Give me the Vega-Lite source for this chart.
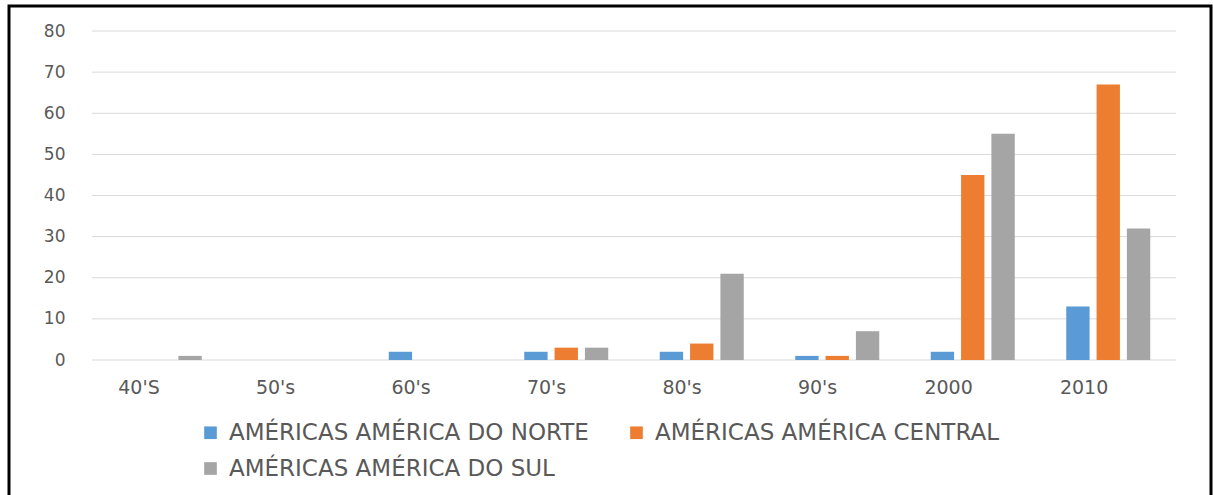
{
  "$schema": "https://vega.github.io/schema/vega-lite/v6.json",
  "width": 1202,
  "height": 495,
  "autosize": "none",
  "padding": {"left": 9, "top": 6, "right": 2, "bottom": 0},
  "background": "white",
  "config": {
    "view": {"stroke": "#000000", "strokeWidth": 3},
    "font": "DejaVu Sans"
  },
  "datasets": {
    "bars": [
      {"decada": "40'S", "regiao": "AMÉRICAS AMÉRICA DO NORTE", "valor": 0},
      {"decada": "40'S", "regiao": "AMÉRICAS AMÉRICA CENTRAL", "valor": 0},
      {"decada": "40'S", "regiao": "AMÉRICAS AMÉRICA DO SUL", "valor": 1},
      {"decada": "50's", "regiao": "AMÉRICAS AMÉRICA DO NORTE", "valor": 0},
      {"decada": "50's", "regiao": "AMÉRICAS AMÉRICA CENTRAL", "valor": 0},
      {"decada": "50's", "regiao": "AMÉRICAS AMÉRICA DO SUL", "valor": 0},
      {"decada": "60's", "regiao": "AMÉRICAS AMÉRICA DO NORTE", "valor": 2},
      {"decada": "60's", "regiao": "AMÉRICAS AMÉRICA CENTRAL", "valor": 0},
      {"decada": "60's", "regiao": "AMÉRICAS AMÉRICA DO SUL", "valor": 0},
      {"decada": "70's", "regiao": "AMÉRICAS AMÉRICA DO NORTE", "valor": 2},
      {"decada": "70's", "regiao": "AMÉRICAS AMÉRICA CENTRAL", "valor": 3},
      {"decada": "70's", "regiao": "AMÉRICAS AMÉRICA DO SUL", "valor": 3},
      {"decada": "80's", "regiao": "AMÉRICAS AMÉRICA DO NORTE", "valor": 2},
      {"decada": "80's", "regiao": "AMÉRICAS AMÉRICA CENTRAL", "valor": 4},
      {"decada": "80's", "regiao": "AMÉRICAS AMÉRICA DO SUL", "valor": 21},
      {"decada": "90's", "regiao": "AMÉRICAS AMÉRICA DO NORTE", "valor": 1},
      {"decada": "90's", "regiao": "AMÉRICAS AMÉRICA CENTRAL", "valor": 1},
      {"decada": "90's", "regiao": "AMÉRICAS AMÉRICA DO SUL", "valor": 7},
      {"decada": "2000", "regiao": "AMÉRICAS AMÉRICA DO NORTE", "valor": 2},
      {"decada": "2000", "regiao": "AMÉRICAS AMÉRICA CENTRAL", "valor": 45},
      {"decada": "2000", "regiao": "AMÉRICAS AMÉRICA DO SUL", "valor": 55},
      {"decada": "2010", "regiao": "AMÉRICAS AMÉRICA DO NORTE", "valor": 13},
      {"decada": "2010", "regiao": "AMÉRICAS AMÉRICA CENTRAL", "valor": 67},
      {"decada": "2010", "regiao": "AMÉRICAS AMÉRICA DO SUL", "valor": 32}
    ],
    "grid": [
      {"v": 0}, {"v": 10}, {"v": 20}, {"v": 30}, {"v": 40},
      {"v": 50}, {"v": 60}, {"v": 70}, {"v": 80}
    ]
  },
  "layer": [
    {
      "data": {"name": "grid"},
      "mark": {"type": "rule", "color": "#d9d9d9", "strokeWidth": 1},
      "encoding": {
        "y": {"field": "v", "type": "quantitative"},
        "x": {"datum": "40'S", "bandPosition": -0.306},
        "x2": {"datum": "2010", "bandPosition": 1.307}
      }
    },
    {
      "data": {"name": "bars"},
      "mark": {"type": "bar"},
      "encoding": {
        "x": {
          "field": "decada",
          "type": "nominal",
          "scale": {
            "domain": ["40'S", "50's", "60's", "70's", "80's", "90's", "2000", "2010"],
            "range": [83, 1167],
            "paddingInner": 0.38,
            "paddingOuter": 0.19
          },
          "axis": {
            "title": null,
            "orient": "bottom",
            "offset": -141,
            "domain": false,
            "ticks": false,
            "labelAngle": 0,
            "labelPadding": 27,
            "labelFontSize": 19,
            "labelColor": "#595959",
            "labelFont": "DejaVu Sans"
          }
        },
        "xOffset": {
          "field": "regiao",
          "type": "nominal",
          "sort": ["AMÉRICAS AMÉRICA DO NORTE", "AMÉRICAS AMÉRICA CENTRAL", "AMÉRICAS AMÉRICA DO SUL"],
          "scale": {"paddingInner": 0.23, "paddingOuter": 0}
        },
        "y": {
          "field": "valor",
          "type": "quantitative",
          "scale": {"domain": [0, 80], "range": [354, 25], "nice": false},
          "axis": {
            "title": null,
            "values": [0, 10, 20, 30, 40, 50, 60, 70, 80],
            "offset": -60,
            "grid": false,
            "domain": false,
            "ticks": false,
            "labelPadding": 4,
            "labelFontSize": 17,
            "labelColor": "#595959",
            "labelFont": "DejaVu Sans"
          }
        },
        "color": {
          "field": "regiao",
          "type": "nominal",
          "sort": ["AMÉRICAS AMÉRICA DO NORTE", "AMÉRICAS AMÉRICA CENTRAL", "AMÉRICAS AMÉRICA DO SUL"],
          "scale": {
            "domain": ["AMÉRICAS AMÉRICA DO NORTE", "AMÉRICAS AMÉRICA CENTRAL", "AMÉRICAS AMÉRICA DO SUL"],
            "range": ["#5B9BD5", "#ED7D31", "#A5A5A5"]
          },
          "legend": {
            "title": null,
            "orient": "none",
            "direction": "horizontal",
            "legendX": 190,
            "legendY": 415,
            "columns": 2,
            "padding": 0,
            "columnPadding": 36,
            "rowPadding": 12,
            "symbolType": "square",
            "symbolSize": 160,
            "symbolStrokeWidth": 0,
            "labelOffset": 7,
            "labelFontSize": 23,
            "labelColor": "#595959",
            "labelFont": "DejaVu Sans",
            "labelLimit": 600
          }
        }
      }
    }
  ]
}
